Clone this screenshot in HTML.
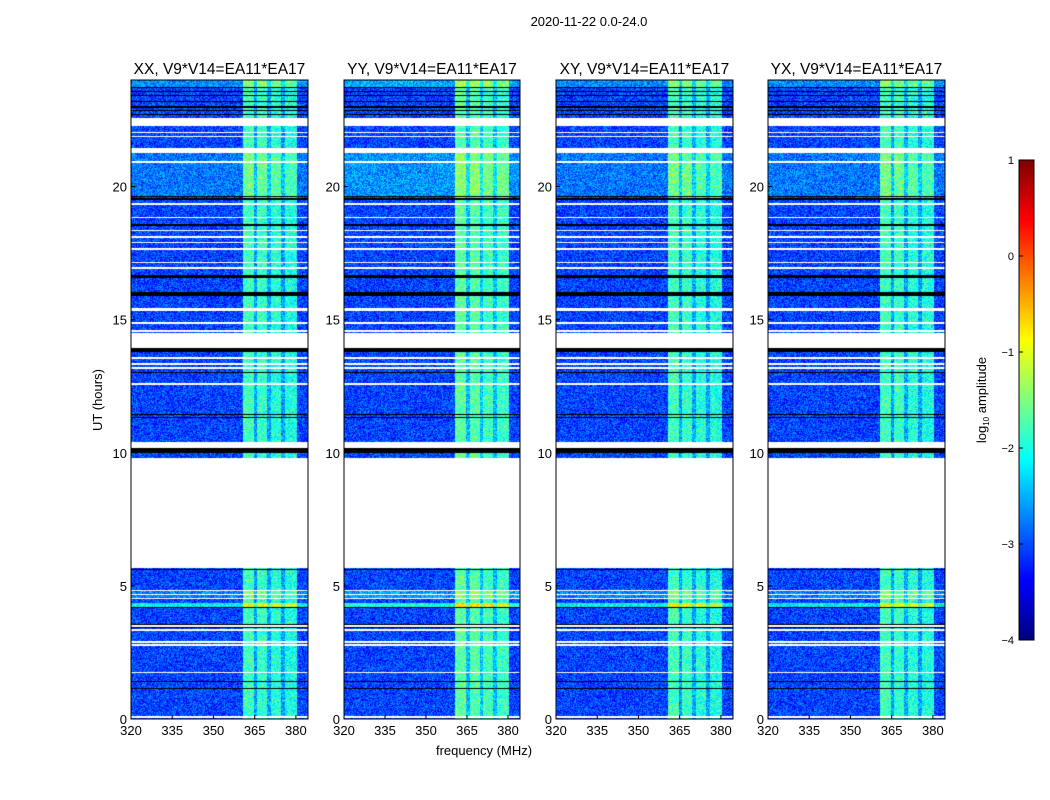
<!DOCTYPE html>
<html><head><meta charset="utf-8">
<style>
body{margin:0;background:#fff;}
#wrap{position:relative;width:1050px;height:800px;overflow:hidden;background:#fff;font-family:"Liberation Sans","DejaVu Sans",sans-serif;}
canvas{position:absolute;}
svg{position:absolute;left:0;top:0;}
</style></head>
<body>
<div id="wrap">
<canvas id="c0" width="177" height="639" style="left:131px;top:80px"></canvas>
<canvas id="c1" width="176" height="639" style="left:344px;top:80px"></canvas>
<canvas id="c2" width="177" height="639" style="left:556px;top:80px"></canvas>
<canvas id="c3" width="177" height="639" style="left:768px;top:80px"></canvas>
<canvas id="cb" width="15" height="480" style="left:1019px;top:160px"></canvas>
<svg id="svg" width="1050" height="800"></svg>
</div>
<script>
// ---- data ----
const panelTitles = ["XX, V9*V14=EA11*EA17","YY, V9*V14=EA11*EA17","XY, V9*V14=EA11*EA17","YX, V9*V14=EA11*EA17"];
const panelBandBoost = [0, 0.15, 0, 0];
const xTicks = [320,335,350,365,380];
const yTicks = [0,5,10,15,20];
const cbTicks = [1,0,-1,-2,-3,-4];
const freqMin = 320, freqMax = 384.4, hourMin = 0, hourMax = 24;
const vmin = -4, vmax = 1;
const backgroundLevel = -3.05;
// spectral band segments: [startMHz, endMHz, log amplitude]
const bandStart = [360.7, 364.6, 366.0, 369.6, 371.0, 374.6, 376.0, 380.3];
const bandEnd   = [364.6, 366.0, 369.6, 371.0, 374.6, 376.0, 380.3, 384.4];
const bandLevel = [-1.8, -2.6, -1.85, -2.55, -1.95, -2.6, -2.0, -3.05];
// flagged (white) time ranges in hours
const whiteStart = [22.27,21.26,13.93,10.18,5.67,0.05, 22.0,21.85,20.9,19.32,18.8,18.31,18.08,17.86,17.63,17.11,16.92,15.32,14.85,14.55,13.52,13.31,13.16,12.56,4.79,4.64,4.49,3.47,3.32,2.87,2.76,1.71];
const whiteEnd   = [22.57,21.45,14.50,10.40,9.80,0.10, 22.05,21.9,20.95,19.37,18.85,18.36,18.13,17.91,17.68,17.16,16.97,15.44,14.9,14.6,13.60,13.36,13.21,12.61,4.84,4.69,4.54,3.52,3.37,2.92,2.81,1.76];
// black (zero) rows in hours
const blackStart = [16.58,15.88,15.65,19.51,18.52,13.8,10.0,12.72,12.99,11.41,11.30,10.88,5.59,4.16,3.52,3.41,1.38,1.12,23.54,23.39,23.19,22.95,22.84,22.69,23.71,19.61];
const blackEnd   = [16.66,16.02,15.68,19.57,18.6,13.92,10.16,12.75,13.02,11.44,11.33,10.91,5.62,4.19,3.55,3.44,1.41,1.15,23.58,23.43,23.23,23.03,22.87,22.72,23.74,19.64];
// brighter time ranges: [start,end] hours and level offset
const brightStart = [19.64,4.21,4.54,23.74];
const brightEnd   = [21.26,4.36,4.79,24.0];
const brightOffset= [0.25,0.9,0.3,0.35];

// ---- helpers ----
const PX=[131,344,556,768], PW=[177,176,177,177], PT=80, PH=639;
function xScale(f,i){return PX[i]+(f-freqMin)/(freqMax-freqMin)*PW[i];}
function yScale(h){return PT+PH-(h-hourMin)/(hourMax-hourMin)*PH;}
function jet(t){t=Math.max(0,Math.min(1,t));
 const c=v=>Math.max(0,Math.min(1,v));
 return [c(1.5-Math.abs(4*t-3))*255,c(1.5-Math.abs(4*t-2))*255,c(1.5-Math.abs(4*t-1))*255];}
function hash(a,b,s){let h=(a*374761393+b*668265263+s*2147483647)|0;h=(h^(h>>>13))*1274126177|0;return ((h^(h>>>16))>>>0)/4294967296;}
function chanLevel(f){for(let k=0;k<bandStart.length;k++){if(f>=bandStart[k]&&f<bandEnd[k])return bandLevel[k];}return backgroundLevel;}
function inAny(h,s,e){for(let k=0;k<s.length;k++){if(h>=s[k]&&h<=e[k])return k;}return -1;}

for(let p=0;p<4;p++){
 const cv=document.getElementById('c'+p),ctx=cv.getContext('2d'),W=cv.width,H=cv.height;
 const img=ctx.createImageData(W,H);
 for(let y=0;y<H;y++){
  const h=hourMax-(y+0.5)/H*(hourMax-hourMin);
  const isW=inAny(h,whiteStart,whiteEnd)>=0, isB=inAny(h,blackStart,blackEnd)>=0;
  const bi=inAny(h,brightStart,brightEnd), off=bi>=0?brightOffset[bi]:0;
  for(let x=0;x<W;x++){
   const i=(y*W+x)*4;let r,g,b;
   if(isW){r=g=b=255;} else if(isB){r=g=b=0;}
   else{const f=freqMin+(x+0.5)/W*(freqMax-freqMin);let v=chanLevel(f)+off;
    if(v>backgroundLevel+0.1)v+=panelBandBoost[p];
    v+=(hash(x,y,p+1)-0.5)*0.9;
    [r,g,b]=jet((v-vmin)/(vmax-vmin));}
   img.data[i]=r;img.data[i+1]=g;img.data[i+2]=b;img.data[i+3]=255;}
 }
 ctx.putImageData(img,0,0);
}
// colorbar
(function(){const cv=document.getElementById('cb'),ctx=cv.getContext('2d');
 for(let y=0;y<480;y++){const t=1-(y+0.5)/480;const[r,g,b]=jet(t);ctx.fillStyle=`rgb(${r|0},${g|0},${b|0})`;ctx.fillRect(0,y,15,1);}})();

const svg=document.getElementById('svg'),NS="http://www.w3.org/2000/svg";
function el(tag,attrs,text){const e=document.createElementNS(NS,tag);for(const k in attrs)e.setAttribute(k,attrs[k]);if(text!==undefined)e.textContent=text;svg.appendChild(e);return e;}
let t;
t=el('text',{x:589,y:26,'text-anchor':'middle','font-size':13,fill:'#000'},'2020-11-22 0.0-24.0');


for(let p=0;p<4;p++){
 const x0=PX[p],w=PW[p];
 t=el('text',{x:x0+w/2,y:74,'text-anchor':'middle','font-size':15.5,fill:'#000'},panelTitles[p]);
 
 
 const fr=el('rect',{x:x0,y:PT,width:w,height:PH,fill:'none',stroke:'#000','stroke-width':1});
 
 
 xTicks.forEach(v=>{const x=xScale(v,p);
  const l=el('line',{x1:x,x2:x,y1:PT+PH,y2:PT+PH-4,stroke:'#000'});
  
  
  const tt=el('text',{x:x,y:PT+PH+16,'text-anchor':'middle','font-size':13,fill:'#000'},String(v));
  
  });
 yTicks.forEach(v=>{const y=yScale(v);
  const l=el('line',{x1:x0,x2:x0+4,y1:y,y2:y,stroke:'#000'});
  
  
  const tt=el('text',{x:x0-4,y:y+5,'text-anchor':'end','font-size':13,fill:'#000'},String(v));
  
  });
}
t=el('text',{x:102,y:400,'text-anchor':'middle','font-size':13,fill:'#000',transform:'rotate(-90 102 400)'},'UT (hours)');


t=el('text',{x:484,y:755,'text-anchor':'middle','font-size':13,fill:'#000'},'frequency (MHz)');


const cbf=el('rect',{x:1019,y:160,width:15,height:480,fill:'none',stroke:'#000'});


cbTicks.forEach(v=>{const y=160+(vmax-v)/(vmax-vmin)*480;
 const l=el('line',{x1:1019,x2:1023,y1:y,y2:y,stroke:'#000'});
 
 
 const tt=el('text',{x:1014,y:y+4,'text-anchor':'end','font-size':11,fill:'#000'},v<0?'\u2212'+(-v):String(v));
 
 });
t=el('text',{x:986,y:400,'text-anchor':'middle','font-size':13,fill:'#000',transform:'rotate(-90 986 400)'});


t.innerHTML='log<tspan font-size="8" dy="3">10</tspan><tspan dy="-3"> amplitude</tspan>';
</script>
</body></html>
